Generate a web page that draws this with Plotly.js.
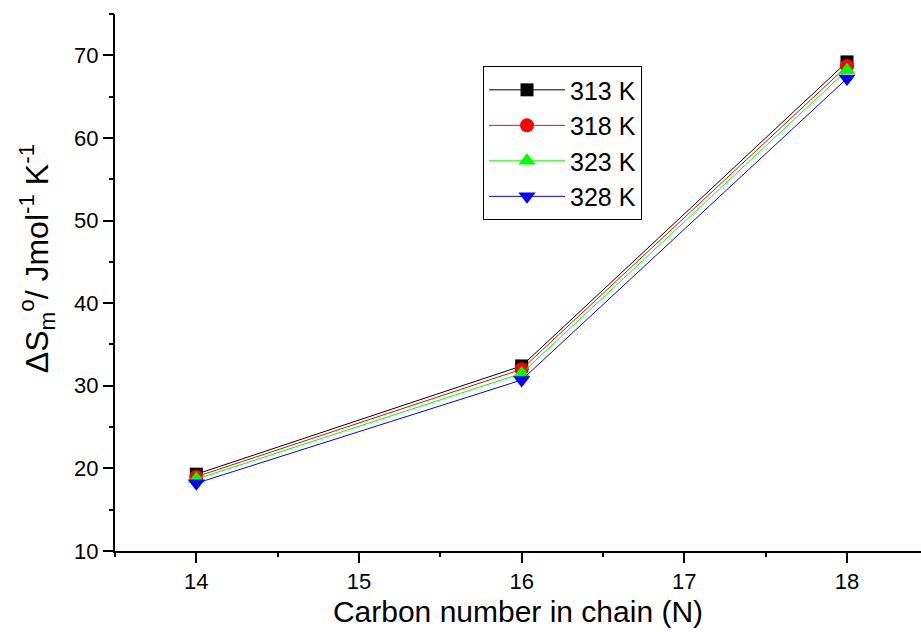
<!DOCTYPE html>
<html>
<head>
<meta charset="utf-8">
<script src="https://cdn.plot.ly/plotly-3.0.1.min.js"></script>
<style>
  html, body { margin: 0; padding: 0; background: #fff; }
  #chart { width: 921px; height: 632px; }
</style>
</head>
<body>
<div id="chart"></div>
<script>
// Carbon number of the alkyl chain
const carbonNumber = [14, 16, 18];

// Standard entropy of micellization at each temperature
const temperatures = ['313 K', '318 K', '323 K', '328 K'];
const dS313 = [19.3, 32.4, 69.2];
const dS318 = [19.0, 32.0, 68.7];
const dS323 = [18.7, 31.5, 68.2];
const dS328 = [18.2, 30.7, 67.2];

// Axis tick positions (major and minor) and labels
const xTicks = [14, 15, 16, 17, 18];
const xTickLabels = ['14', '15', '16', '17', '18'];
const xMinorTicks = [13.5, 14.5, 15.5, 16.5, 17.5];
const yTicks = [10, 20, 30, 40, 50, 60, 70];
const yTickLabels = ['10', '20', '30', '40', '50', '60', '70'];
const yMinorTicks = [15, 25, 35, 45, 55, 65, 75];

const seriesValues = [dS313, dS318, dS323, dS328];
const seriesColors = ['#000000', '#ff0000', '#00ff00', '#0000ff'];
const seriesSymbols = ['square', 'circle', 'triangle-up', 'triangle-down'];
const seriesSizes = [13, 14, 15, 15];

const traces = seriesValues.map((vals, i) => ({
  x: carbonNumber,
  y: vals,
  name: temperatures[i],
  type: 'scatter',
  mode: 'lines+markers',
  line: { color: seriesColors[i], width: 1 },
  marker: { symbol: seriesSymbols[i], size: seriesSizes[i], color: seriesColors[i], line: { width: 0 } }
}));

const xRange = [13.5, 18.455];
const yRange = [10, 75];
const sized = (s) => '<span style="font-size:22px">' + s + '</span>';

const layout = {
  width: 921,
  height: 632,
  margin: { l: 115, r: 0, t: 14, b: 81 },
  paper_bgcolor: '#ffffff',
  plot_bgcolor: '#ffffff',
  showlegend: true,
  font: { family: 'Arial, "Liberation Sans", sans-serif', size: 22, color: '#000' },
  xaxis: {
    range: xRange,
    tickmode: 'array',
    tickvals: xTicks,
    ticktext: xTickLabels.map(sized),
    ticks: 'outside',
    ticklen: 10,
    tickwidth: 2,
    tickcolor: '#000',
    showline: true,
    linecolor: '#000',
    linewidth: 2,
    showgrid: false,
    zeroline: false,
    tickfont: { size: 22 },
    title: { text: 'Carbon number in chain (N)', font: { size: 30 }, standoff: 8 }
  },
  // second x axis carrying only the minor tick marks
  xaxis2: {
    overlaying: 'x',
    range: xRange,
    tickmode: 'array',
    tickvals: xMinorTicks,
    showticklabels: false,
    ticks: 'outside',
    ticklen: 5,
    tickwidth: 2,
    tickcolor: '#000',
    showline: false,
    showgrid: false,
    zeroline: false
  },
  yaxis: {
    range: yRange,
    tickmode: 'array',
    tickvals: yTicks,
    ticktext: yTickLabels.map(sized),
    ticks: 'outside',
    ticklen: 10,
    tickwidth: 2,
    tickcolor: '#000',
    showline: true,
    linecolor: '#000',
    linewidth: 2,
    showgrid: false,
    zeroline: false,
    tickfont: { size: 22 }
  },
  yaxis2: {
    overlaying: 'y',
    range: yRange,
    tickmode: 'array',
    tickvals: yMinorTicks,
    showticklabels: false,
    ticks: 'outside',
    ticklen: 5,
    tickwidth: 2,
    tickcolor: '#000',
    showline: false,
    showgrid: false,
    zeroline: false
  },
  // vertical axis title, placed as a rotated annotation
  annotations: [{
    text: 'ΔS<sub>m</sub><sup>o</sup>/ Jmol<sup>-1</sup> K<sup>-1</sup>',
    xref: 'paper', yref: 'paper',
    x: -0.097, y: 0.545,
    xanchor: 'center', yanchor: 'middle',
    textangle: -90,
    showarrow: false,
    font: { size: 32 }
  }],
  legend: {
    x: 0.4566,
    y: 0.903,
    xanchor: 'left',
    yanchor: 'top',
    bgcolor: '#ffffff',
    bordercolor: '#000',
    borderwidth: 1,
    font: { size: 25 },
    itemwidth: 76,
    tracegroupgap: 0
  }
};

// an empty trace pins the minor-tick axes so they are drawn
traces.push({ x: [], y: [], xaxis: 'x2', yaxis: 'y2', type: 'scatter', mode: 'markers', showlegend: false, hoverinfo: 'skip' });

Plotly.newPlot('chart', traces, layout, { displayModeBar: false, staticPlot: true });
</script>
</body>
</html>
